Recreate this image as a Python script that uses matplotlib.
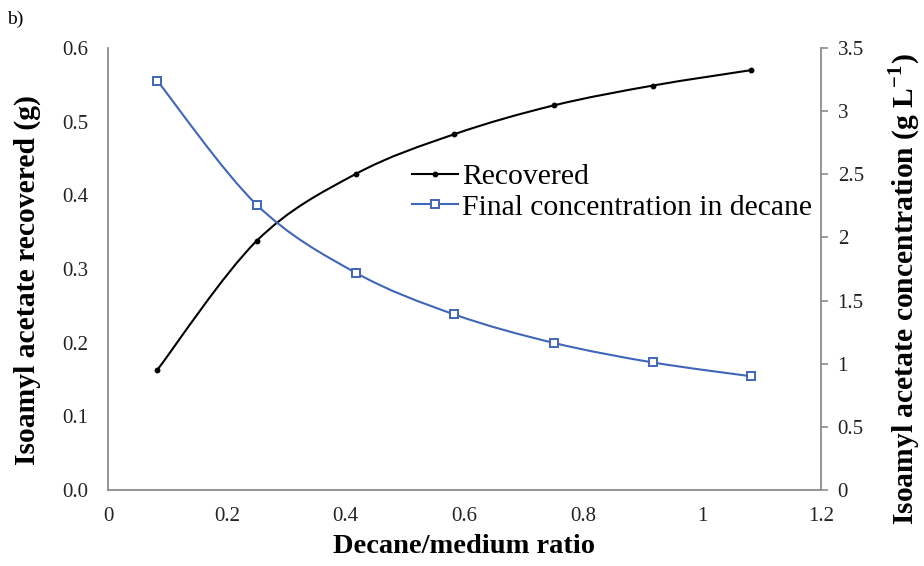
import matplotlib
matplotlib.use('Agg')
import matplotlib.pyplot as plt
from matplotlib.path import Path
from matplotlib.patches import PathPatch
from matplotlib.lines import Line2D
from matplotlib.ticker import FormatStrFormatter
import numpy as np

# data
ratio = [0.083, 0.25, 0.417, 0.583, 0.75, 0.917, 1.083]
recovered = [0.163, 0.338, 0.429, 0.483, 0.522, 0.549, 0.570]
final_conc = [3.24, 2.26, 1.72, 1.39, 1.165, 1.01, 0.90]

blue = '#3F66B8'
spine_col = '#8C8C8C'

plt.rcParams['font.family'] = ['Liberation Serif', 'DejaVu Serif']
plt.rcParams['mathtext.fontset'] = 'custom'
plt.rcParams['mathtext.rm'] = 'Liberation Serif'
plt.rcParams['mathtext.bf'] = 'Liberation Serif:bold'


def smooth_path(xs, ys):
    # excel-style smoothed line: cubic bezier through every point
    pts = np.column_stack([xs, ys])
    n = len(pts)
    verts = [pts[0]]
    codes = [Path.MOVETO]
    for i in range(n - 1):
        p0 = pts[i - 1] if i > 0 else pts[i]
        p1 = pts[i]
        p2 = pts[i + 1]
        p3 = pts[i + 2] if i + 2 < n else pts[i + 1]
        c1 = p1 + (p2 - p0) / 6.0
        c2 = p2 - (p3 - p1) / 6.0
        verts += [c1, c2, p2]
        codes += [Path.CURVE4] * 3
    return Path(verts, codes)


fig = plt.figure(figsize=(9.24, 5.66), dpi=100)
ax = fig.add_axes([0.1169, 0.1343, 0.7716, 0.7809])
ax2 = ax.twinx()

ax.add_patch(PathPatch(smooth_path(ratio, recovered), facecolor='none',
                       edgecolor='black', lw=1.5))
ax.plot(ratio, recovered, ls='none', marker='o', ms=3.2, color='black')

ax2.add_patch(PathPatch(smooth_path(ratio, final_conc), facecolor='none',
                        edgecolor=blue, lw=1.5))
ax2.plot(ratio, final_conc, ls='none', marker='s', ms=6, mfc='white',
         mec=blue, mew=1.4)

ax.set_xlim(0, 1.2)
ax.set_ylim(0, 0.6)
ax2.set_ylim(0, 3.5)
ax.set_xticks(np.arange(0, 1.21, 0.2))
ax.set_yticks(np.arange(0, 0.61, 0.1))
ax2.set_yticks(np.arange(0, 3.51, 0.5))
ax.xaxis.set_major_formatter(FormatStrFormatter('%g'))
ax.yaxis.set_major_formatter(FormatStrFormatter('%.1f'))
ax2.yaxis.set_major_formatter(FormatStrFormatter('%g'))

for a in (ax, ax2):
    for s in a.spines.values():
        s.set_color(spine_col)
        s.set_linewidth(1.3)
    a.spines['top'].set_visible(False)
ax.spines['right'].set_visible(False)
ax2.spines['left'].set_visible(False)
ax2.spines['bottom'].set_visible(False)

ax.tick_params(axis='y', length=0, pad=14, labelsize=15, colors='#222222')
ax.tick_params(axis='x', length=0, pad=12, labelsize=15, colors='#222222')
ax2.tick_params(axis='y', length=5, width=1.2, color=spine_col, pad=7,
                labelsize=15, labelcolor='#222222')

ax.set_xlabel('Decane/medium ratio', fontsize=20.5, fontweight='bold',
              labelpad=6)
# y labels placed where the reference has them
fig.text(27 / 924, 1 - 280 / 566, 'Isoamyl acetate recovered (g)',
         rotation=90, ha='center', va='center', fontsize=21.3,
         fontweight='bold')
fig.text(905 / 924, 1 - 289 / 566,
         r'Isoamyl acetate concentration (g L$^{\mathbf{-1}}$)',
         rotation=90, ha='center', va='center', fontsize=21.3,
         fontweight='bold')

handles = [
    Line2D([], [], color='black', lw=1.5, marker='o', ms=3.2),
    Line2D([], [], color=blue, lw=1.5, marker='s', ms=6, mfc='white',
           mec=blue, mew=1.4),
]
ax2.legend(handles, ['Recovered', 'Final concentration in decane'],
           loc='upper left', bbox_to_anchor=(0.41, 0.765), frameon=False,
           fontsize=21.3, handlelength=1.55, handletextpad=0.15,
           labelspacing=0.12, borderaxespad=0)

fig.text(0.008, 0.965, 'b)', fontsize=14, va='center', ha='left')

fig.savefig('out.png', dpi=100)
